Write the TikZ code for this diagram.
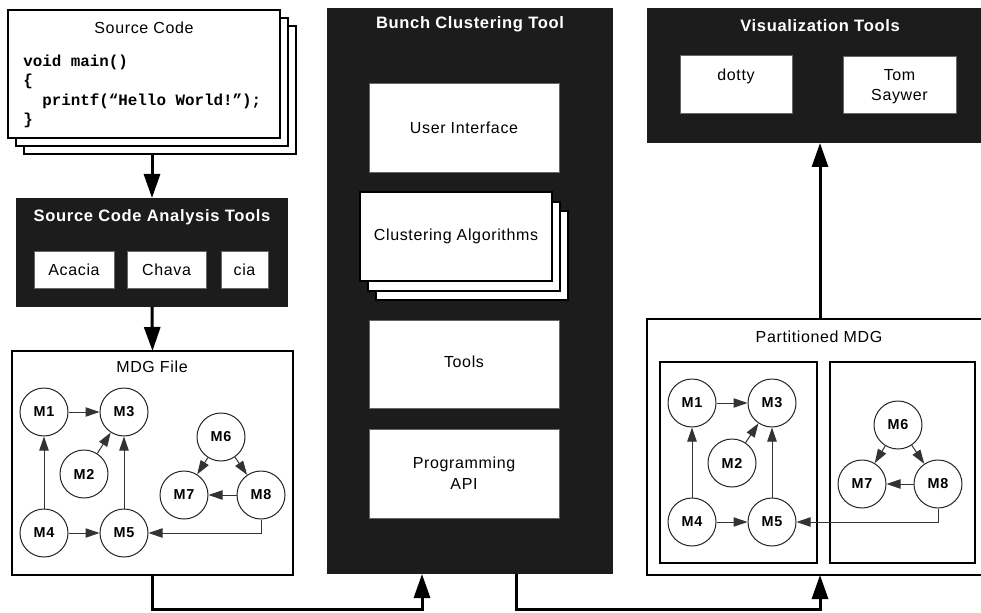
\documentclass[tikz,border=0pt]{standalone}
\usepackage{fontspec}
\setmainfont{Liberation Sans}[LetterSpace=4]
\newfontfamily\codefont{Liberation Mono}
\usetikzlibrary{arrows.meta,fit}
\definecolor{panel}{HTML}{1C1C1C}
\definecolor{edgegray}{HTML}{333333}

\tikzset{
  darkbox/.style={fill=panel, draw=none, inner sep=0pt, outer sep=0pt},
  whitebox/.style={fill=white, draw=black!60, line width=0.6pt, inner sep=0pt, outer sep=0pt},
  paperbox/.style={fill=white, draw=black, line width=1.1pt, inner sep=0pt, outer sep=0pt},
  framebox/.style={draw=black, line width=1.3pt, inner sep=0pt, outer sep=0pt},
  innerframe/.style={draw=black, line width=1.6pt, inner sep=0pt, outer sep=0pt},
  headline/.style={font=\fontsize{12.4}{14}\selectfont\bfseries, text=white, inner sep=0pt},
  caption/.style={font=\fontsize{12}{14}\selectfont, inner sep=0pt, align=center},
  codeline/.style={font=\fontsize{11.9}{13}\codefont\bfseries, anchor=base west, inner sep=0pt},
  module/.style={circle, draw=black!85, line width=0.75pt, fill=white, minimum size=36pt,
                 inner sep=0pt, font=\fontsize{10.8}{12}\selectfont\bfseries},
  dep/.style={draw=edgegray, line width=0.75pt, -{Triangle[length=10.5pt,width=7pt]}},
  flow/.style={line width=2.25pt, -{Triangle[length=18pt,width=12pt]}},
}

\begin{document}
\begin{tikzpicture}[x=0.75pt,y=-0.75pt]
\useasboundingbox (0,0) rectangle (981,613);
\clip (0,0) rectangle (981,613);

% ---------- source code (stack of pages) ----------
\node[paperbox, fit={(24,26) (296,154)}] (src3) {};
\node[paperbox, fit={(16,18) (288,146)}] (src2) {};
\node[paperbox, fit={(8,10) (280,138)}] (src) {};
\node[caption] (srctitle) at (144,28) {Source Code};
\node[codeline] (code1) at (23,67) {void main()};
\node[codeline] (code2) at (23,86) {\{};
\node[codeline] (code3) at (42,106) {printf(“Hello World!”);};
\node[codeline] (code4) at (23,125) {\}};

% ---------- source code analysis tools ----------
\node[darkbox, fit={(16,198) (288,307)}] (sca) {};
\node[headline] (scatitle) at (152,217) {Source Code Analysis Tools};
\node[whitebox, fit={(34,251) (114,288)}] (acacia) {};
\node[caption] at (acacia.center) {Acacia};
\node[whitebox, fit={(127,251) (206,288)}] (chava) {};
\node[caption] at (chava.center) {Chava};
\node[whitebox, fit={(221,251) (268,288)}] (cia) {};
\node[caption] at (cia.center) {cia};

% ---------- MDG file ----------
\node[framebox, fill=white, fit={(12,351) (293,575)}] (mdg) {};
\node[caption] (mdgtitle) at (152,367) {MDG File};
\node[module] (a1) at (44,412) {M1};
\node[module] (a3) at (124,412) {M3};
\node[module] (a2) at (84,474) {M2};
\node[module] (a4) at (44,533) {M4};
\node[module] (a5) at (124,533) {M5};
\node[module] (a6) at (221,437) {M6};
\node[module] (a7) at (184,495) {M7};
\node[module] (a8) at (261,495) {M8};
\draw[dep] (a1) -- (a3);
\draw[dep] (a2) -- (a3);
\draw[dep] (a4) -- (a1);
\draw[dep] (a5) -- (a3);
\draw[dep] (a4) -- (a5);
\draw[dep] (a6) -- (a7);
\draw[dep] (a6) -- (a8);
\draw[dep] (a8) -- (a7);
\draw[dep] (a8.south) |- (a5.east);

% ---------- Bunch clustering tool ----------
\node[darkbox, fit={(327,8) (613,574)}] (bunch) {};
\node[headline] (bunchtitle) at (470,24) {Bunch Clustering Tool};
\node[whitebox, fit={(369,83) (559,172)}] (ui) {};
\node[caption] at (ui.center) {User Interface};
\node[paperbox, fit={(376,211) (568,300)}] (alg3) {};
\node[paperbox, fit={(368,202) (560,291)}] (alg2) {};
\node[paperbox, fit={(360,192) (552,281)}] (alg) {};
\node[caption] at (alg.center) {Clustering Algorithms};
\node[whitebox, fit={(369,320) (559,408)}] (tools) {};
\node[caption] at ([yshift=1.5pt]tools.center) {Tools};
\node[whitebox, fit={(369,429) (559,518)}] (api) {};
\node[caption] at (api.center) {Programming\\[2pt]API};

% ---------- Visualization tools ----------
\node[darkbox, fit={(647,8) (993,143)}] (vis) {};
\node[headline] (vistitle) at (820,26) {Visualization Tools};
\node[whitebox, fit={(680,55) (792,113)}] (dotty) {};
\node[caption, anchor=north] at ([yshift=-10pt]dotty.north) {dotty};
\node[whitebox, fit={(843,56) (956,113)}] (tom) {};
\node[caption, anchor=north] at ([yshift=-10pt]tom.north) {Tom\\[1pt]Saywer};

% ---------- Partitioned MDG ----------
\node[framebox, fill=white, fit={(647,319) (993,575)}] (part) {};
\node[caption] (parttitle) at (819,337) {Partitioned MDG};
\node[innerframe, fit={(660,362) (817,563)}] (clusterA) {};
\node[innerframe, fit={(830,362) (975,563)}] (clusterB) {};
\node[module] (b1) at (692,403) {M1};
\node[module] (b3) at (772,403) {M3};
\node[module] (b2) at (732,463) {M2};
\node[module] (b4) at (692,522) {M4};
\node[module] (b5) at (772,522) {M5};
\node[module] (b6) at (898,425) {M6};
\node[module] (b7) at (862,484) {M7};
\node[module] (b8) at (938,484) {M8};
\draw[dep] (b1) -- (b3);
\draw[dep] (b2) -- (b3);
\draw[dep] (b4) -- (b1);
\draw[dep] (b5) -- (b3);
\draw[dep] (b4) -- (b5);
\draw[dep] (b6) -- (b7);
\draw[dep] (b6) -- (b8);
\draw[dep] (b8) -- (b7);
\draw[dep] (b8.south) |- (b5.east);

% ---------- data flow ----------
\coordinate (bunchin) at (422,574);
\coordinate (bunchout) at (516,574);
\draw[flow] (sca.north |- src3.south) -- (sca.north);
\draw[flow] (sca.south) -- (mdg.north);
\draw[flow] (mdg.south) -- ++(0,34) -| (bunchin);
\draw[flow] (bunchout) -- ++(0,35) -| (part.south);
\draw[flow] (part.north) -- (vis.south);
\end{tikzpicture}
\end{document}
